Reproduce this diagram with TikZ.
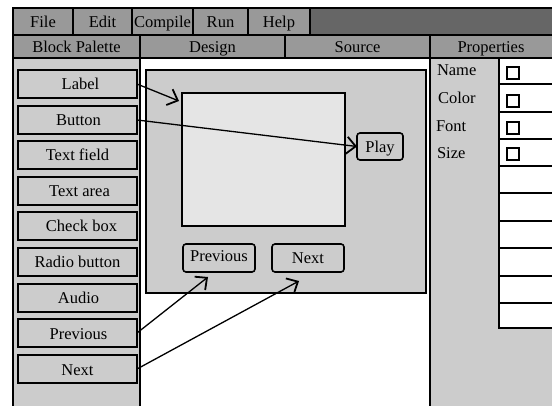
\documentclass[tikz,border=0pt]{standalone}
\usepackage{fontspec}
\setmainfont{Liberation Serif}
\usetikzlibrary{arrows.meta,calc}

\definecolor{barGray}{HTML}{999999}
\definecolor{barDark}{HTML}{666666}
\definecolor{panelGray}{HTML}{CCCCCC}
\definecolor{screenGray}{HTML}{E5E5E5}

\begin{document}
\begin{tikzpicture}[x=1pt,y=-1pt,
  every node/.style={font=\fontsize{16.5}{19}\selectfont, inner sep=0pt, outer sep=0pt,
    text height=12.5pt, text depth=0.5pt},
  rect/.style={draw, line width=1.6pt, anchor=north west},
  barcell/.style={rect, fill=barGray},
  panel/.style={rect, fill=panelGray},
  palbtn/.style={rect, fill=panelGray, minimum width=119pt, minimum height=28pt},
  uibtn/.style={rect, fill=panelGray, rounded corners=3pt},
  propcell/.style={rect, fill=white, minimum width=70pt},
  tick/.style={rect, fill=white, minimum width=12pt, minimum height=12pt, line width=1.3pt,
    text height=0pt, text depth=0pt},
  proplabel/.style={anchor=base west, text height=, text depth=},
  link/.style={line width=1.3pt, -{Straight Barb[length=9pt,width=17pt,line width=1.8pt]}}]

\clip (0,0) rectangle (552,406);
\fill[white] (0,0) rectangle (552,406);

% menu bar
\node[barcell, minimum width=60pt, minimum height=27pt] (mFile) at (13,8) {File};
\node[barcell, minimum width=59pt, minimum height=27pt] (mEdit) at (73,8) {Edit};
\node[barcell, minimum width=61pt, minimum height=27pt] (mCompile) at (132,8) {Compile};
\node[barcell, minimum width=55pt, minimum height=27pt] (mRun) at (193,8) {Run};
\node[barcell, minimum width=62pt, minimum height=27pt] (mHelp) at (248,8) {Help};
\node[rect, fill=barDark, minimum width=260pt, minimum height=27pt] (mRest) at (310,8) {};

% tab row
\node[barcell, minimum width=127pt, minimum height=23pt] (tPalette) at (13,35) {Block Palette};
\node[barcell, minimum width=145pt, minimum height=23pt] (tDesign) at (140,35) {Design};
\node[barcell, minimum width=145pt, minimum height=23pt] (tSource) at (285,35) {Source};
\node[barcell, minimum width=140pt, minimum height=23pt] (tProps) at (430,35) {\hspace*{-18pt}Properties};

% block palette column
\node[panel, minimum width=127pt, minimum height=360pt] (palette) at (13,58) {};
\node[palbtn] (pLabel) at (18,70) {\hspace*{6pt}Label};
\node[palbtn] (pButton) at (18,106) {\hspace*{2pt}Button};
\node[palbtn] (pTextField) at (18,141) {Text field};
\node[palbtn] (pTextArea) at (18,177) {\hspace*{4pt}Text area};
\node[palbtn] (pCheck) at (18,212) {\hspace*{8pt}Check box};
\node[palbtn] (pRadio) at (18,248) {Radio button};
\node[palbtn] (pAudio) at (18,284) {\hspace*{2pt}Audio};
\node[palbtn] (pPrev) at (18,319) {\hspace*{2pt}Previous};
\node[palbtn] (pNext) at (18,355) {Next};

% design canvas
\node[panel, minimum width=280pt, minimum height=223pt] (canvas) at (146,70) {};
\node[rect, fill=screenGray, minimum width=163pt, minimum height=133pt] (screen) at (182,93) {};
\node[uibtn, minimum width=46pt, minimum height=27pt] (dPlay) at (357,133) {Play};
\node[uibtn, minimum width=72pt, minimum height=28pt] (dPrev) at (183,244) {\raisebox{2pt}{Previous}};
\node[uibtn, minimum width=72pt, minimum height=28pt] (dNext) at (272,244) {Next};

% properties column
\node[panel, minimum width=140pt, minimum height=360pt] (props) at (430,58) {};
\node[propcell, minimum height=26pt] (r1) at (499,58) {};
\node[propcell, minimum height=28pt] (r2) at (499,84) {};
\node[propcell, minimum height=27pt] (r3) at (499,112) {};
\node[propcell, minimum height=27pt] (r4) at (499,139) {};
\node[propcell, minimum height=27pt] (r5) at (499,166) {};
\node[propcell, minimum height=28pt] (r6) at (499,193) {};
\node[propcell, minimum height=27pt] (r7) at (499,221) {};
\node[propcell, minimum height=28pt] (r8) at (499,248) {};
\node[propcell, minimum height=27pt] (r9) at (499,276) {};
\node[propcell, minimum height=25pt] (r10) at (499,303) {};
\node[tick] (cName) at (507,67) {};
\node[tick] (cColor) at (507,95) {};
\node[tick] (cFont) at (507,122) {};
\node[tick] (cSize) at (507,148) {};
\node[proplabel] (lName) at (437,76) {Name};
\node[proplabel] (lColor) at (438,104) {Color};
\node[proplabel] (lFont) at (436,132) {Font};
\node[proplabel] (lSize) at (437,159) {Size};

% connectors from palette blocks to the widgets they create
\coordinate (labelTip) at (179,101);
\coordinate (prevTip) at (208,277);
\coordinate (nextTip) at (299,281);
\draw[link] (pLabel.east) -- (labelTip);
\draw[link] (pButton.east) -- (dPlay.west);
\draw[link] (pPrev.east) -- (prevTip);
\draw[link] (pNext.east) -- (nextTip);

\end{tikzpicture}
\end{document}
